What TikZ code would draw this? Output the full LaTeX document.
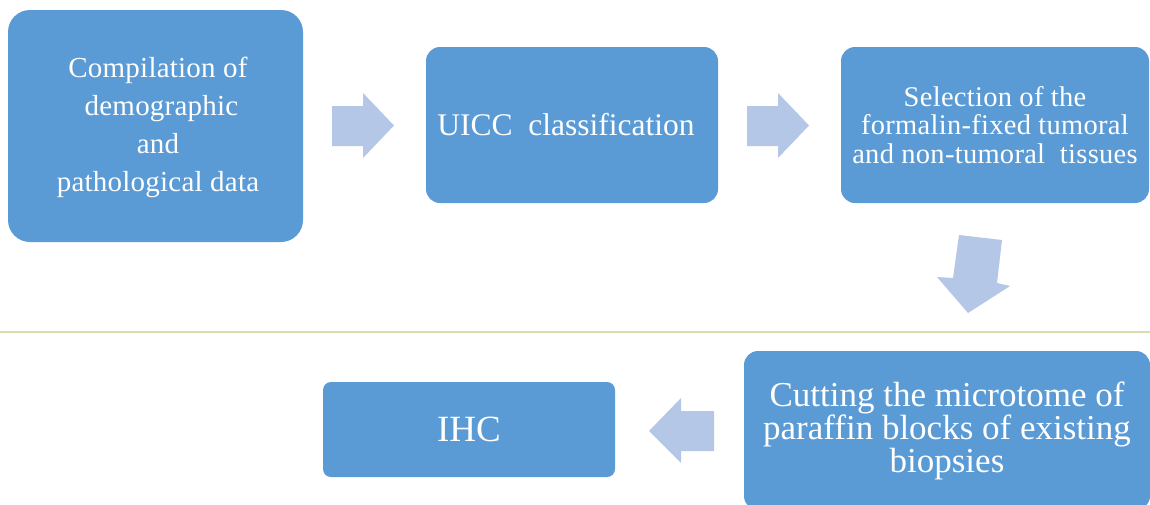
\documentclass[tikz,border=0pt]{standalone}
\usepackage{fontspec}
\setmainfont{Liberation Serif}
\newfontfamily\spacedA[LetterSpace=0.8]{Liberation Serif}
\newfontfamily\spacedC[LetterSpace=1.0]{Liberation Serif}
\definecolor{boxblue}{HTML}{5B9BD5}
\definecolor{arrowblue}{HTML}{B4C7E7}
\definecolor{sepline}{HTML}{D3E0AE}
\tikzset{
  flowbox/.style={fill=boxblue, draw=none, text=white, align=center, inner sep=0pt},
  blockarrow/.style={fill=arrowblue, draw=none},
}
\begin{document}
\begin{tikzpicture}[x=1pt,y=-1pt]
\useasboundingbox (0,0) rectangle (1150,504);
\fill[white] (0,0) rectangle (1150,504);
% boxes
\node[flowbox, rounded corners=22pt, minimum width=295pt, minimum height=232pt] (b1) at (155.5,126) {};
\node[text=white, align=center, inner sep=0pt,
  font=\spacedA\fontsize{29}{38}\selectfont] (t1) at (158,127.5)
  {Compilation of\\\hspace*{7pt}demographic\\and\\pathological data};
\node[flowbox, rounded corners=14pt, minimum width=292pt, minimum height=156pt,
  font=\fontsize{31.5}{36}\selectfont] (b2) at (572,125)
  {UICC\ \ classification\hspace*{12pt}};
\node[flowbox, rounded corners=14pt, minimum width=308pt, minimum height=156pt,
  font=\spacedC\fontsize{28.5}{28.5}\selectfont] (b3) at (995,125)
  {Selection of the\\formalin-fixed tumoral\\and non-tumoral\ \ tissues};
\node[flowbox, rounded corners=14pt, minimum width=406pt, minimum height=159pt,
  font=\fontsize{35}{33}\selectfont] (b4) at (947,430.5)
  {Cutting the microtome of\\paraffin blocks of existing\\biopsies};
\node[flowbox, rounded corners=8pt, minimum width=292pt, minimum height=95pt,
  font=\fontsize{37}{40}\selectfont] (b5) at (469,429.5) {IHC};
% separator line
\draw[sepline, line width=2pt] (0,331.5) -- (1150,331.5);
% block arrows
\fill[blockarrow] (332,106) -- (363,106) -- (363,93) -- (394,125.5) -- (363,158) -- (363,146) -- (332,146) -- cycle;
\fill[blockarrow] (747,106) -- (778,106) -- (778,93) -- (809,125.5) -- (778,158) -- (778,146) -- (747,146) -- cycle;
\fill[blockarrow] (959,235) -- (1002,240) -- (997,283) -- (1010,286) -- (968,313) -- (937,277) -- (953,278) -- cycle;
\fill[blockarrow] (714,411) -- (681,411) -- (681,398) -- (649,431) -- (681,463) -- (681,451) -- (714,451) -- cycle;
\end{tikzpicture}
\end{document}
